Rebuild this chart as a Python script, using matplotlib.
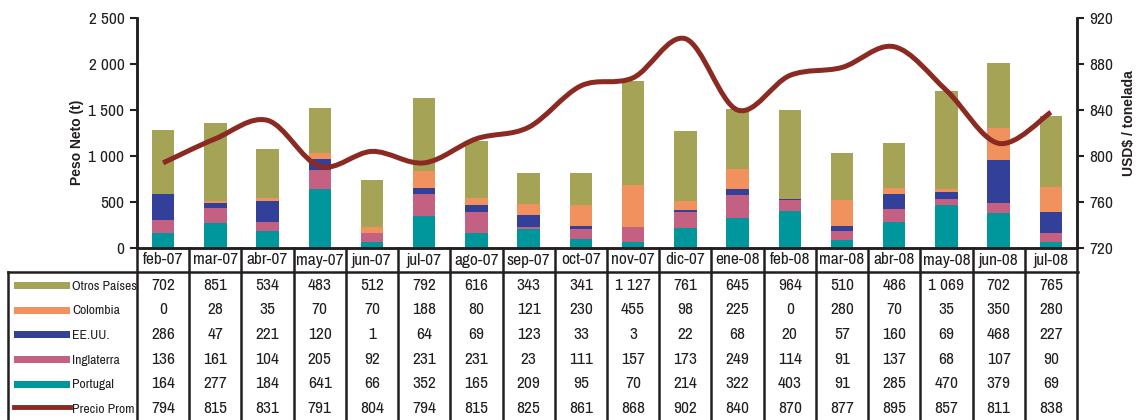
import numpy as np
import matplotlib
matplotlib.use("Agg")
import matplotlib.pyplot as plt
from matplotlib.path import Path
from matplotlib.patches import PathPatch, Rectangle
from matplotlib.lines import Line2D
import matplotlib.transforms as mtransforms

# --- datos ---
meses = ["feb-07", "mar-07", "abr-07", "may-07", "jun-07", "jul-07", "ago-07", "sep-07", "oct-07",
         "nov-07", "dic-07", "ene-08", "feb-08", "mar-08", "abr-08", "may-08", "jun-08", "jul-08"]
otros = [702, 851, 534, 483, 512, 792, 616, 343, 341, 1127, 761, 645, 964, 510, 486, 1069, 702, 765]
colombia = [0, 28, 35, 70, 70, 188, 80, 121, 230, 455, 98, 225, 0, 280, 70, 35, 350, 280]
eeuu = [286, 47, 221, 120, 1, 64, 69, 123, 33, 3, 22, 68, 20, 57, 160, 69, 468, 227]
inglaterra = [136, 161, 104, 205, 92, 231, 231, 23, 111, 157, 173, 249, 114, 91, 137, 68, 107, 90]
portugal = [164, 277, 184, 641, 66, 352, 165, 209, 95, 70, 214, 322, 403, 91, 285, 470, 379, 69]
precio = [794, 815, 831, 791, 804, 794, 815, 825, 861, 868, 902, 840, 870, 877, 895, 857, 811, 838]

plt.rcParams['font.family'] = ['Archivo Narrow', 'Liberation Sans', 'DejaVu Sans']
bold_fam = ['Liberation Sans', 'DejaVu Sans']

W, H = 1136, 420
fig = plt.figure(figsize=(W / 100, H / 100), dpi=100)

def fx(px):
    return px / W

def fy(py):
    return 1 - py / H

ax = fig.add_axes([fx(137), fy(248), fx(1077) - fx(137), fy(18) - fy(248)])
ax2 = ax.twinx()
ax.set_zorder(1)
ax2.set_zorder(2)
ax.patch.set_visible(False)

c_otros, c_col, c_us, c_ing, c_por = "#A5A355", "#F0915E", "#32409A", "#C46082", "#00979C"
c_precio = "#8B2A23"
negro = "#231F20"
fs = 12.5

x = np.arange(len(meses))
series = [(portugal, c_por), (inglaterra, c_ing), (eeuu, c_us), (colombia, c_col), (otros, c_otros)]
base = np.zeros(len(meses))
for vals, col in series:
    ax.bar(x, vals, bottom=base, width=0.43, color=col, linewidth=0)
    base = base + np.array(vals)

ax.set_xlim(-0.5, len(meses) - 0.5)
ax.set_ylim(0, 2500)
ax2.set_ylim(720, 920)

yt = [0, 500, 1000, 1500, 2000, 2500]
ax.set_yticks(yt)
ax.set_yticklabels([f"{v:,}".replace(",", " ") for v in yt])
ax2.set_yticks([720, 760, 800, 840, 880, 920])
ax.set_xticks([])
for a in (ax, ax2):
    a.tick_params(axis='y', direction='out', length=5, width=1.5, colors=negro, labelsize=fs, pad=4)
    for s in a.spines.values():
        s.set_linewidth(1.8)
        s.set_color(negro)
    a.spines['top'].set_visible(False)

# linea suavizada (Catmull-Rom -> Bezier)
pts = np.column_stack([x, precio]).astype(float)
ext = np.vstack([pts[0], pts, pts[-1]])
verts = [tuple(pts[0])]
codes = [Path.MOVETO]
for i in range(1, len(ext) - 2):
    p0, p1, p2, p3 = ext[i - 1], ext[i], ext[i + 1], ext[i + 2]
    c1 = p1 + (p2 - p0) / 6
    c2 = p2 - (p3 - p1) / 6
    verts += [tuple(c1), tuple(c2), tuple(p2)]
    codes += [Path.CURVE4] * 3
ax2.add_patch(PathPatch(Path(verts, codes), facecolor='none', edgecolor=c_precio, lw=3.6,
                        capstyle='butt', joinstyle='round'))

fig.text(fx(77), fy(142), "Peso Neto (t)", rotation=90, ha='center', va='center',
         fontsize=10, fontweight='bold', family=bold_fam, color=negro)
fig.text(fx(1129), fy(123), "USD$ / tonelada", rotation=90, ha='center', va='center',
         fontsize=10, fontweight='bold', family=bold_fam, color=negro)

# --- tabla ---
tr = mtransforms.blended_transform_factory(ax.transData, fig.transFigure)
lw_t = 1.8
for b in np.arange(-0.5, len(meses), 1.0):
    fig.add_artist(Line2D([b, b], [fy(248), fy(420)], transform=tr, color=negro, lw=lw_t))
fig.add_artist(Line2D([fx(8), fx(1078)], [fy(272), fy(272)], color=negro, lw=lw_t))
fig.add_artist(Line2D([fx(8), fx(8)], [fy(272), fy(420)], color=negro, lw=lw_t))

for i, m in enumerate(meses):
    fig.text(i, fy(260), m, transform=tr, ha='center', va='center', fontsize=fs, color=negro)

filas = [("Otros Países", otros, c_otros), ("Colombia", colombia, c_col), ("EE.UU.", eeuu, c_us),
         ("Inglaterra", inglaterra, c_ing), ("Portugal", portugal, c_por), ("Precio Prom", precio, c_precio)]
y0, dy = 285, 24.7
for r, (nombre, vals, col) in enumerate(filas):
    yc = y0 + r * dy
    if nombre == "Precio Prom":
        fig.add_artist(Line2D([fx(14), fx(70)], [fy(yc - 2), fy(yc - 2)], color=col, lw=3.5))
    else:
        fig.add_artist(Rectangle((fx(14), fy(yc + 4)), fx(56), 7 / H, color=col, lw=0,
                                 transform=fig.transFigure))
    fig.text(fx(72), fy(yc + 1), nombre, ha='left', va='center', fontsize=9.8, color=negro)
    for i, v in enumerate(vals):
        fig.text(i, fy(yc), f"{v:,}".replace(",", " "), transform=tr, ha='center', va='center',
                 fontsize=fs, color=negro)

fig.savefig("out.png", dpi=100)
